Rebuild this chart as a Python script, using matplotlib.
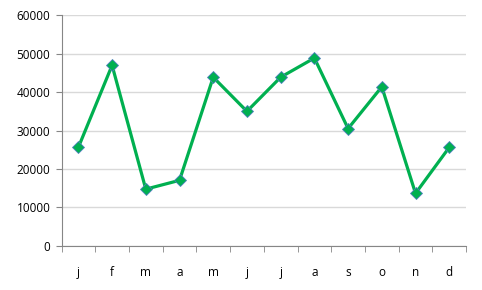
import numpy as np
import matplotlib.pyplot as plt
from matplotlib.ticker import FixedLocator

months = ['j', 'f', 'm', 'a', 'm', 'j', 'j', 'a', 's', 'o', 'n', 'd']
values = [25600, 47000, 14700, 17000, 43900, 35000, 43900, 48900, 30500, 41400, 13600, 25600]

plt.rcParams['font.family'] = ['Open Sans', 'DejaVu Sans']

fig = plt.figure(figsize=(4.82, 2.90), dpi=100)
ax = fig.add_axes([0.1276, 0.1534, 0.967 - 0.1276, 0.9466 - 0.1534])

x = np.arange(len(months)) + 0.5
ax.plot(x, values, color='#00b050', lw=2.3, marker='D', markersize=6,
        markerfacecolor='#00b050', markeredgecolor='#4f81bd', markeredgewidth=0.6,
        zorder=3)

ax.set_xlim(0, len(months))
ax.set_ylim(0, 60000)
ax.set_yticks(np.arange(0, 60001, 10000))
ax.yaxis.grid(True, color='#d9d9d9', lw=1)
ax.set_axisbelow(True)

ax.set_xticks(x)
ax.set_xticklabels(months)
ax.xaxis.set_minor_locator(FixedLocator(np.arange(0, len(months) + 1)))
ax.tick_params(axis='x', which='major', length=0, pad=15, labelsize=8.5, labelcolor='#000000')
ax.tick_params(axis='x', which='minor', length=4, color='#868686', direction='out')
ax.tick_params(axis='y', length=4, color='#868686', labelsize=8.5, pad=4, labelcolor='#000000')

for s in ['top', 'right']:
    ax.spines[s].set_visible(False)
for s in ['left', 'bottom']:
    ax.spines[s].set_color('#868686')

fig.savefig('out.png', dpi=100)
